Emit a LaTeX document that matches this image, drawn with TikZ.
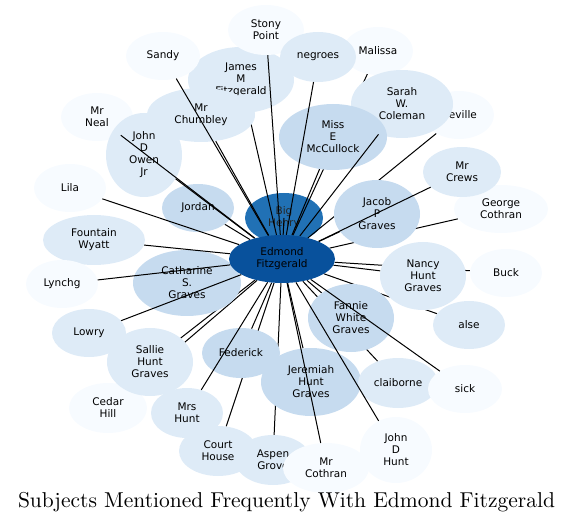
\documentclass[tikz,border=0pt]{standalone}
\usepackage{fontspec}
\newfontfamily\labelfont{DejaVu Sans}
\newfontfamily\titlefont[Extension=.otf]{lmroman10-regular}
\usetikzlibrary{shapes.geometric}

\definecolor{blue0}{HTML}{F7FBFF}
\definecolor{blue1}{HTML}{DEEBF7}
\definecolor{blue2}{HTML}{C6DBEF}
\definecolor{blue5}{HTML}{2171B5}
\definecolor{blue6}{HTML}{08519C}

\pgfdeclarelayer{henry}
\pgfdeclarelayer{back}
\pgfdeclarelayer{front}
\pgfdeclarelayer{top}
\pgfsetlayers{henry,back,main,front,top}

\begin{document}
\begin{tikzpicture}[x=1pt, y=-1pt,
    subj/.style={ellipse, inner sep=0pt, align=center, text=black,
      font=\labelfont\fontsize{10.5}{12}\selectfont},
    tone0/.style={fill=blue0},
    tone1/.style={fill=blue1},
    tone2/.style={fill=blue2},
    link/.style={black, line width=1pt}]

    \useasboundingbox (0,0) rectangle (573,529);

    % 中心ノード
    \begin{pgfonlayer}{top}
      \node[subj, fill=blue6, minimum width=106pt, minimum height=48pt] (edmond) at (282,259) {Edmond\\Fitzgerald};
    \end{pgfonlayer}
    \begin{pgfonlayer}{henry}
      \node[subj, fill=blue5, text=black!85, minimum width=78pt, minimum height=50pt] (henry) at (284,218) {Big\\Henry};
    \end{pgfonlayer}

    % 周辺ノード (上)
    \node[subj, tone0, minimum width=70pt, minimum height=48pt] (malissa) at (378,51) {Malissa};
    \node[subj, tone1, minimum width=106pt, minimum height=66pt] (jamesm) at (241,80) {James\\M\\Fitzgerald};
    \node[subj, tone1, minimum width=108pt, minimum height=54pt] (chumbley) at (201,115) {Mr\\Chumbley};
    \node[subj, tone0, minimum width=76pt, minimum height=50pt] (stony) at (266,30) {Stony\\Point};
    \node[subj, tone1, minimum width=76pt, minimum height=50pt] (negroes) at (318,57) {negroes};
    \node[subj, tone0, minimum width=74pt, minimum height=48pt] (sandy) at (163,56) {Sandy};

    % 周辺ノード (左)
    \node[subj, tone0, minimum width=72pt, minimum height=48pt] (neal) at (97,117) {Mr\\Neal};
    \node[subj, tone1, minimum width=76pt, minimum height=84pt] (owen) at (144,155) {John\\D\\Owen\\Jr};
    \node[subj, tone0, minimum width=72pt, minimum height=48pt] (lila) at (70,188) {Lila};
    \node[subj, tone2, minimum width=72pt, minimum height=48pt] (jordan) at (198,208) {Jordan};
    \node[subj, tone1, minimum width=102pt, minimum height=50pt] (fountain) at (94,240) {Fountain\\Wyatt};
    \node[subj, tone0, minimum width=72pt, minimum height=48pt] (lynchg) at (62,284) {Lynchg};
    \node[subj, tone2, minimum width=108pt, minimum height=66pt] (catharine) at (187,283) {Catharine\\S.\\Graves};
    \node[subj, tone1, minimum width=74pt, minimum height=48pt] (lowry) at (89,333) {Lowry};
    \node[subj, tone0, minimum width=78pt, minimum height=50pt] (cedar) at (108,408) {Cedar\\Hill};
    \node[subj, tone1, minimum width=86pt, minimum height=68pt] (sallie) at (150,362) {Sallie\\Hunt\\Graves};

    % 周辺ノード (下)
    \node[subj, tone1, minimum width=72pt, minimum height=50pt] (mrshunt) at (187,413) {Mrs\\Hunt};
    \node[subj, tone2, minimum width=78pt, minimum height=50pt] (federick) at (241,353) {Federick};
    \node[subj, tone1, minimum width=76pt, minimum height=50pt] (aspen) at (273,460) {Aspen\\Grove};
    \node[subj, tone1, minimum width=78pt, minimum height=50pt] (court) at (218,451) {Court\\House};
    \node[subj, tone0, minimum width=86pt, minimum height=50pt] (cothran) at (326,468) {Mr\\Cothran};
    \node[subj, tone0, minimum width=72pt, minimum height=66pt] (johnhunt) at (396,450) {John\\D\\Hunt};
    \node[subj, tone2, minimum width=100pt, minimum height=68pt] (jeremiah) at (311,382) {Jeremiah\\Hunt\\Graves};

    % 周辺ノード (右)
    \node[subj, tone2, minimum width=86pt, minimum height=68pt] (fannie) at (351,318) {Fannie\\White\\Graves};
    \node[subj, tone1, minimum width=80pt, minimum height=50pt] (claiborne) at (398,383) {claiborne};
    \node[subj, tone0, minimum width=74pt, minimum height=48pt] (sick) at (465,389) {sick};
    \node[subj, tone1, minimum width=72pt, minimum height=48pt] (alse) at (469,325) {alse};
    \node[subj, tone1, minimum width=86pt, minimum height=68pt] (nancy) at (423,276) {Nancy\\Hunt\\Graves};
    \node[subj, tone0, minimum width=72pt, minimum height=48pt] (buck) at (506,273) {Buck};
    \node[subj, tone0, minimum width=94pt, minimum height=48pt] (george) at (501,209) {George\\Cothran};
    \node[subj, tone2, minimum width=86pt, minimum height=68pt] (jacob) at (377,214) {Jacob\\P\\Graves};
    \node[subj, tone1, minimum width=78pt, minimum height=50pt] (crews) at (462,172) {Mr\\Crews};
    \node[subj, tone0, minimum width=70pt, minimum height=48pt] (neville) at (459,115) {Neville};
    \node[subj, tone1, minimum width=102pt, minimum height=68pt] (sarah) at (402,104) {Sarah\\W.\\Coleman};
    \node[subj, tone2, minimum width=108pt, minimum height=66pt] (mccullock) at (333,137) {Miss\\E\\McCullock};

    % 辺 (ノードの下)
    \begin{pgfonlayer}{back}
      \draw[link] (edmond.center) -- (henry.center);
      \foreach \n in {malissa, neville, jamesm, chumbley, mccullock, jacob, george,
          buck, alse, nancy, claiborne, fannie, jeremiah, aspen, court, federick,
          cedar, sallie, catharine, jordan}
        \draw[link] (edmond) -- (\n);
    \end{pgfonlayer}

    % 辺 (ノードの上)
    \begin{pgfonlayer}{front}
      \foreach \n in {sandy, stony, negroes, sarah, neal, owen, lila, fountain,
          lynchg, lowry, mrshunt, cothran, johnhunt, sick, crews}
        \draw[link] (edmond) -- (\n);
    \end{pgfonlayer}

    % タイトル
    \node[anchor=base, font=\titlefont\fontsize{21.5}{24}\selectfont] (title) at (286.5,507)
      {Subjects Mentioned Frequently With Edmond Fitzgerald};

\end{tikzpicture}
\end{document}
